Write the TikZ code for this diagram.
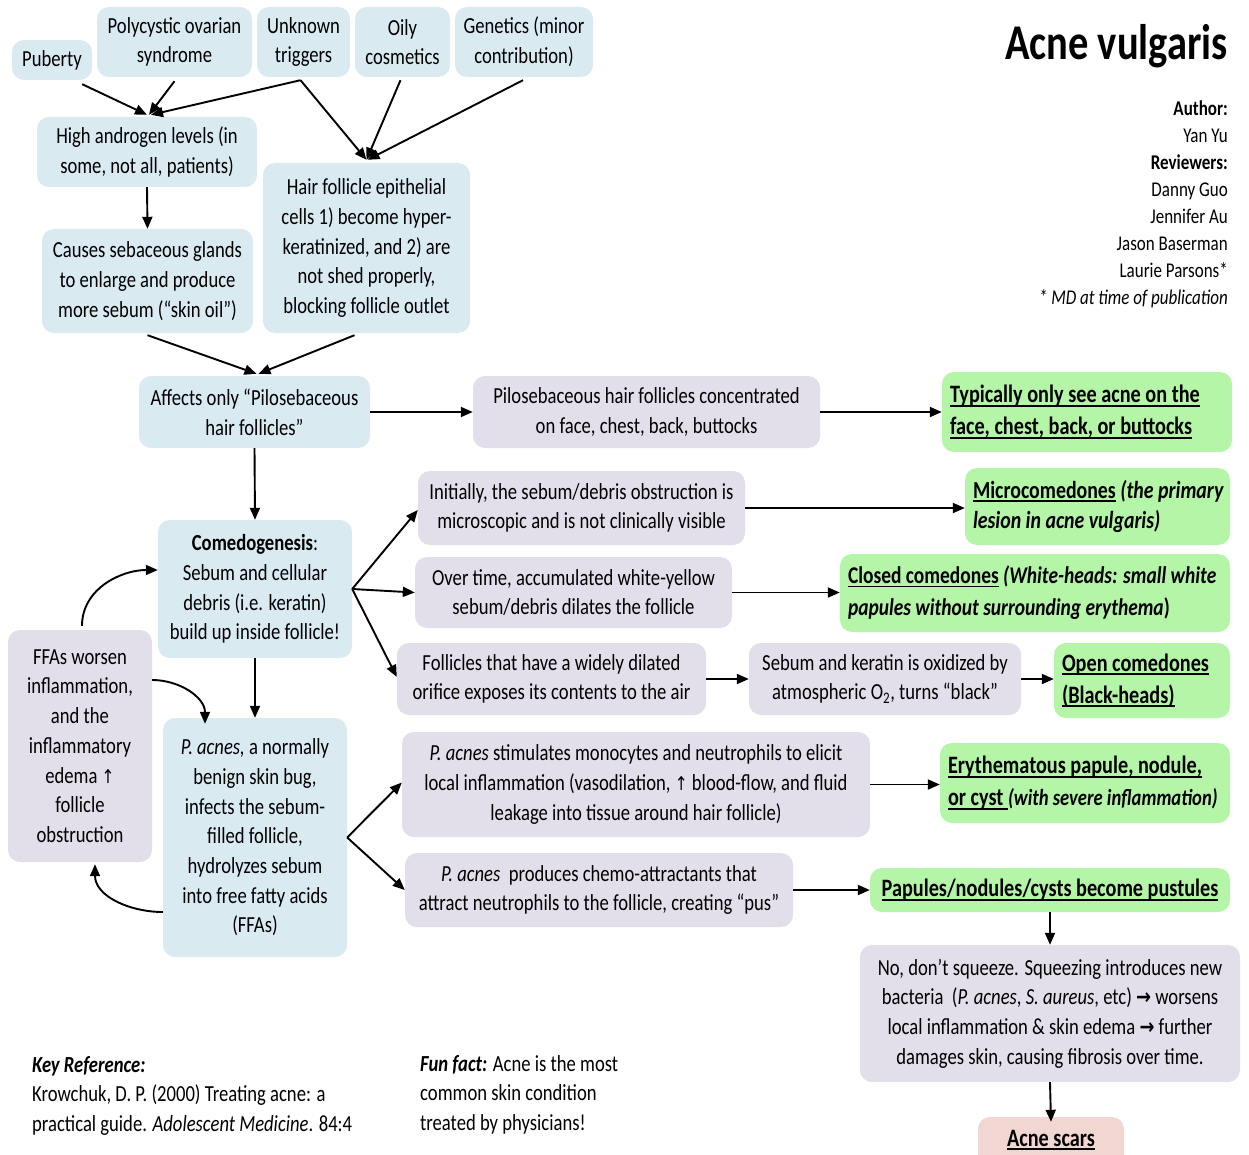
\documentclass[tikz,border=0pt]{standalone}
\usepackage{fontspec}
\setmainfont{Carlito}[FakeStretch=0.81]
\newfontfamily\symf{DejaVu Sans}[FakeStretch=0.81]
\usetikzlibrary{arrows.meta,calc}
\definecolor{bluec}{RGB}{218,234,241}
\definecolor{lavc}{RGB}{226,222,234}
\definecolor{grnc}{RGB}{180,245,168}
\definecolor{pinkc}{RGB}{242,214,210}
\newcommand\fN{\fontsize{23}{29.7}\selectfont}
\newcommand\fG{\fontsize{25}{32}\selectfont\bfseries}
\newcommand\uln[1]{\leavevmode\setbox0=\hbox{#1}\rlap{\rule[-0.15em]{\wd0}{0.075em}}\box0\relax}
\newcommand\upar{{\symf\fontsize{19}{19}\selectfont ↑}}
\newcommand\rar{{\symf\fontsize{22}{22}\selectfont\bfseries →}}
\begin{document}
\begin{tikzpicture}[x=1pt,y=1pt,
 bx/.style={rounded corners=12pt, inner sep=0pt, align=center, font=\fN},
 bl/.style={bx, fill=bluec}, lv/.style={bx, fill=lavc},
 gr/.style={bx, fill=grnc, font=\fG, align=flush left, inner xsep=8pt},
 ar/.style={line width=1.9pt, -{Triangle[length=12pt,width=10pt]}},
]
\fill[white] (0,0) rectangle (1249,-1155);
\useasboundingbox (0,0) rectangle (1249,-1155);

% top causes
\node[bl, minimum width=80, minimum height=40] (pub) at (52,-60) {Puberty};
\node[bl, minimum width=155, minimum height=70] (pcos) at (174.5,-42) {Polycystic ovarian\\syndrome};
\node[bl, minimum width=93, minimum height=70] (unk) at (303.5,-42) {Unknown\\triggers};
\node[bl, minimum width=95, minimum height=70] (oily) at (402.5,-42) {Oily\\cosmetics};
\node[bl, minimum width=138, minimum height=70] (gen) at (524,-42) {Genetics (minor\\contribution)};

\node[bl, minimum width=220, minimum height=70] (ha) at (147,-152) {High androgen levels (in\\some, not all, patients)};
\node[bl, minimum width=207, minimum height=170] (hf) at (366.5,-248) {Hair follicle epithelial\\cells 1) become hyper-\\keratinized, and 2) are\\not shed properly,\\blocking follicle outlet};
\node[bl, minimum width=211, minimum height=104] (cs) at (147.5,-281) {Causes sebaceous glands\\to enlarge and produce\\more sebum (“skin oil”)};
\node[bl, minimum width=231, minimum height=72] (aff) at (254.5,-412) {Affects only “Pilosebaceous\\hair follicles”};
\node[lv, minimum width=347, minimum height=72] (pil) at (646.5,-412) {Pilosebaceous hair follicles concentrated\\on face, chest, back, buttocks};
\node[gr, text width=274, minimum height=80] (typ) at (1087,-412) {\uln{Typically only see acne on the}\\\uln{face, chest, back, or buttocks}};

\node[lv, minimum width=327, minimum height=74] (ini) at (581.5,-508) {Initially, the sebum/debris obstruction is\\microscopic and is not clinically visible};
\node[gr, text width=249, minimum height=77, font=\fontsize{24.5}{30}\selectfont\bfseries] (mic) at (1097.5,-506.5) {\mbox{\uln{Microcomedones} \textit{(the primary}}\\\mbox{\textit{lesion in acne vulgaris)}}};
\node[bl, minimum width=194, minimum height=138] (com) at (255,-589) {\textbf{Comedogenesis}:\\Sebum and cellular\\debris (i.e. keratin)\\build up inside follicle!};
\node[lv, minimum width=317, minimum height=71] (ovt) at (573.5,-592.5) {Over time, accumulated white-yellow\\sebum/debris dilates the follicle};
\node[gr, text width=374, minimum height=78, font=\fontsize{24}{32}\selectfont\bfseries] (clo) at (1035,-593) {\mbox{\uln{Closed comedones} \textit{(White-heads: small white}}\\\mbox{\textit{papules without surrounding erythema})}};

\node[lv, minimum width=144, minimum height=232] (ffa) at (80,-746) {FFAs worsen\\inflammation,\\and the\\inflammatory\\edema \upar\\follicle\\obstruction};
\node[lv, minimum width=309, minimum height=72] (fol) at (551.5,-679) {Follicles that have a widely dilated\\orifice exposes its contents to the air};
\node[lv, minimum width=272, minimum height=72] (seb) at (885,-679) {Sebum and keratin is oxidized by\\atmospheric O\textsubscript{2}, turns “black”};
\node[gr, text width=160, minimum height=75] (opn) at (1142,-680.5) {\uln{Open comedones}\\\uln{(Black-heads)}};

\node[bl, minimum width=184, minimum height=239] (pac) at (255,-837.5) {\textit{P. acnes,} a normally\\benign skin bug,\\infects the sebum-\\filled follicle,\\hydrolyzes sebum\\into free fatty acids\\(FFAs)};
\node[lv, minimum width=468, minimum height=105] (sti) at (636,-784.5) {\textit{P. acnes} stimulates monocytes and neutrophils to elicit\\local inflammation (vasodilation, \upar{} blood-flow, and fluid\\leakage into tissue around hair follicle)};
\node[gr, text width=274, minimum height=80] (ery) at (1085,-783) {\uln{Erythematous papule, nodule,}\\\mbox{\uln{or cyst }{\fontsize{23}{30}\selectfont\textit{(with severe inflammation)}}}};
\node[lv, minimum width=388, minimum height=74] (pro) at (599,-890) {\textit{P. acnes}~ produces chemo-attractants that\\attract neutrophils to the follicle, creating “pus”};
\node[bx, fill=grnc, font=\fG, minimum width=360, minimum height=44] (pap) at (1050,-890) {\uln{Papules/nodules/cysts become pustules}};
\node[lv, minimum width=380, minimum height=137] (nos) at (1050,-1013.5) {No, don’t squeeze. Squeezing introduces new\\bacteria~ (\textit{P. acnes}, \textit{S. aureus}, etc) \rar{} worsens\\local inflammation \& skin edema \rar{} further\\damages skin, causing fibrosis over time.};
\node[bx, fill=pinkc, minimum width=146, minimum height=60, font=\fG] (scar) at (1051,-1147) {};
\node[font=\fG, inner sep=0] (scart) at (1051,-1140) {\uln{Acne scars}};

% title and credits
\node[anchor=base east, inner sep=0, font=\fontsize{50}{50}\selectfont\bfseries] (title) at (1228,-60) {Acne vulgaris};
\node[anchor=north east, align=right, inner sep=0, font=\fontsize{21}{27}\selectfont] (auth) at (1228,-101) {\textbf{Author:}\\Yan Yu\\\textbf{Reviewers:}\\Danny Guo\\Jennifer Au\\Jason Baserman\\Laurie Parsons*\\\textit{* MD at time of publication}};
\node[anchor=north west, align=left, inner sep=0, font=\fN] (keyref) at (32,-1056) {\textbf{\textit{Key Reference:}}\\Krowchuk, D. P. (2000) Treating acne: a\\practical guide. \textit{Adolescent Medicine}. 84:4};
\node[anchor=north west, align=left, inner sep=0, font=\fN] (fun) at (420,-1055) {\textbf{\textit{Fun fact:}} Acne is the most\\common skin condition\\treated by physicians!};

% connectors
\draw[ar] ([xshift=-10pt,yshift=-4pt]pub.south east) -- ([yshift=2pt]ha.north);
\draw[ar] ([yshift=-4pt]pcos.south) -- ([xshift=2pt,yshift=2pt]ha.north);
\draw[ar] ([xshift=-3pt,yshift=-3pt]unk.south) -- ([xshift=4pt,yshift=2pt]ha.north);
\draw[ar] ([xshift=-3pt,yshift=-3pt]unk.south) -- ([yshift=3pt]hf.north);
\draw[ar] ([xshift=-2pt,yshift=-3pt]oily.south) -- ([yshift=3pt]hf.north);
\draw[ar] ([xshift=-1pt,yshift=-3pt]gen.south) -- ([xshift=1pt,yshift=3pt]hf.north);
\draw[ar] (ha.south) -- (cs.north);
\draw[ar] ([yshift=-2pt]cs.south) -- ([xshift=2pt,yshift=2pt]aff.north);
\draw[ar] ([xshift=-12pt,yshift=-2pt]hf.south) -- ([xshift=4pt,yshift=2pt]aff.north);
\draw[ar] (aff.east) -- (pil.west);
\draw[ar] (pil.east) -- (typ.west);
\draw[ar] (aff.south) -- (com.north);
\draw[ar] (com.east) -- ([yshift=-2pt]ini.west);
\draw[ar] (com.east) -- (ovt.west);
\draw[ar] (com.east) -- ([yshift=2pt]fol.west);
\draw[ar] (ini.east) -- (ini.east -| mic.west);
\draw[ar] (ovt.east) -- (ovt.east -| clo.west);
\draw[ar] (fol.east) -- (seb.west);
\draw[ar] (seb.east) -- (opn.west |- seb.east);
\draw[ar] (com.south) -- (pac.north);
\draw[ar] ([xshift=2pt,yshift=4pt]ffa.north) to[out=90,in=180] ([yshift=19pt]com.west);
\draw[ar] ([yshift=66pt]ffa.east) to[out=0,in=90] ([xshift=-50pt,yshift=-6pt]pac.north);
\draw[ar] ([yshift=-74.5pt]pac.west) to[out=180,in=-90] ([xshift=15pt,yshift=-2pt]ffa.south);
\draw[ar] (pac.east) -- ([yshift=2pt]sti.west);
\draw[ar] (pac.east) -- (pro.west);
\draw[ar] (sti.east) -- (sti.east -| ery.west);
\draw[ar] (pro.east) -- (pap.west);
\draw[ar] (pap.south) -- (nos.north);
\draw[ar] (nos.south) -- ([yshift=-5pt]scar.north);
\end{tikzpicture}
\end{document}
